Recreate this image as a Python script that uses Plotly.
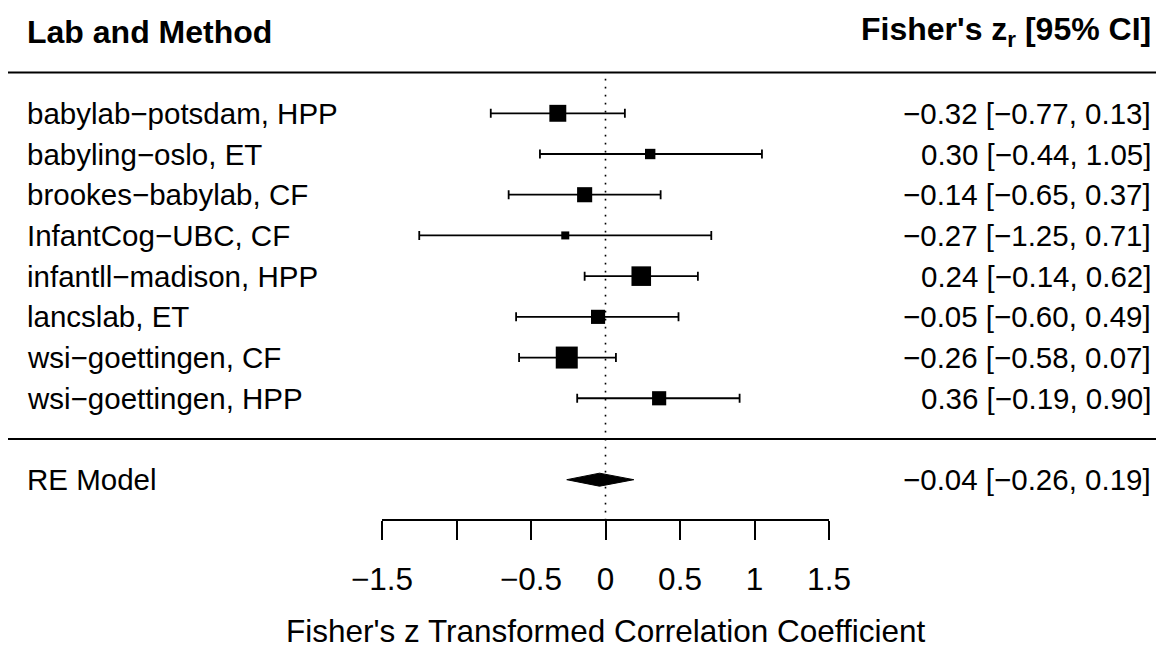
import plotly.graph_objects as go

# ---- data ----
labels = ["babylab\u2212potsdam, HPP", "babyling\u2212oslo, ET", "brookes\u2212babylab, CF",
          "InfantCog\u2212UBC, CF", "infantll\u2212madison, HPP", "lancslab, ET",
          "wsi\u2212goettingen, CF", "wsi\u2212goettingen, HPP"]
est = [-0.32, 0.30, -0.14, -0.27, 0.24, -0.05, -0.26, 0.36]
lb = [-0.77, -0.44, -0.65, -1.25, -0.14, -0.60, -0.58, -0.19]
ub = [0.13, 1.05, 0.37, 0.71, 0.62, 0.49, 0.07, 0.90]
weights = [14.62, 7.25, 12.57, 4.58, 17.62, 11.51, 20.35, 11.51]  # % (estimated from square sizes)

re_label = "RE Model"
re_est, re_lb, re_ub = -0.04, -0.26, 0.19

tick_vals = [-1.5, -0.5, 0, 0.5, 1, 1.5]          # labelled ticks
tick_text = ["\u22121.5", "\u22120.5", "0", "0.5", "1", "1.5"]
unlabelled_ticks = [-1]                            # tick drawn, label dropped

x_title = "Fisher's z Transformed Correlation Coefficient"
head_left = "<b>Lab and Method</b>"
head_right = "<b>Fisher's z<sub>r</sub> [95% CI]</b>"

# ---- layout helpers ----
OFF = 8                      # page body margin of the browser
W, H = 1164 - OFF, 650 - OFF
FONT = "Liberation Sans, Arial, Helvetica, sans-serif"
FS = 29.5
FS_HEAD = 32
FS_AXIS = 31.5
k = len(labels)
rows = list(range(k, 0, -1))
re_row = -1
top_row, bot_row, axis_row, head_row = k + 1, 0, -2, k + 2

row_px0, row_step = 113.3, 40.71   # page pixel y of row k, pixels per row
def py(r):
    return row_px0 + (k - r) * row_step - OFF   # figure pixel y
y_range = [k - (H - (row_px0 - OFF)) / row_step, k + (row_px0 - OFF) / row_step]
def fx(px):                  # page pixel x -> paper fraction
    return (px - OFF) / W
def fy(px):                  # page pixel y -> paper fraction
    return 1 - (px - OFF) / H
x_dom = [fx(382.0), fx(829.0)]

def fmt(v):
    return f"{v:.2f}".replace("-", "\u2212")

wmin, wmax = min(weights), max(weights)
sizes = [8 + (w - wmin) / (wmax - wmin) * 14 for w in weights]

fig = go.Figure()

# reference (dotted) line at 0
fig.add_trace(go.Scatter(x=[0, 0], y=[axis_row, top_row], mode="lines",
                         line=dict(color="black", width=1.6, dash="1.6px,6.4px"),
                         xaxis="x2", yaxis="y", hoverinfo="skip", showlegend=False))

# study estimates with CIs
fig.add_trace(go.Scatter(
    x=est, y=rows, mode="markers",
    marker=dict(symbol="square", size=sizes, color="black", opacity=1, line=dict(width=0)),
    error_x=dict(type="data", symmetric=False,
                 array=[u - e for u, e in zip(ub, est)],
                 arrayminus=[e - l for e, l in zip(est, lb)],
                 color="black", thickness=1.8, width=4.5),
    xaxis="x2", yaxis="y", showlegend=False, cliponaxis=False, hoverinfo="skip"))

# RE model diamond
dh = 0.16
fig.add_trace(go.Scatter(
    x=[re_lb, re_est, re_ub, re_est, re_lb],
    y=[re_row, re_row + dh, re_row, re_row - dh, re_row],
    mode="lines", fill="toself", fillcolor="black",
    line=dict(color="black", width=1), xaxis="x2", yaxis="y",
    showlegend=False, hoverinfo="skip"))

# horizontal separators
for r in (top_row, bot_row):
    fig.add_shape(type="line", xref="paper", yref="y", x0=0, x1=1.0, y0=r, y1=r,
                  line=dict(color="black", width=2))

ann = []
xl, xr = fx(25), fx(1153)
for lab, r, e, l, u in zip(labels, rows, est, lb, ub):
    ann.append(dict(x=xl, y=r, xref="paper", yref="y", text=lab, xanchor="left",
                    yanchor="middle", showarrow=False))
    ann.append(dict(x=xr, y=r, xref="paper", yref="y",
                    text=f"{fmt(e)} [{fmt(l)}, {fmt(u)}]", xanchor="right",
                    yanchor="middle", showarrow=False))
ann.append(dict(x=xl, y=re_row, xref="paper", yref="y", text=re_label, xanchor="left",
                yanchor="middle", showarrow=False))
ann.append(dict(x=xr, y=re_row, xref="paper", yref="y",
                text=f"{fmt(re_est)} [{fmt(re_lb)}, {fmt(re_ub)}]", xanchor="right",
                yanchor="middle", showarrow=False))
ann.append(dict(x=xl, y=head_row, xref="paper", yref="y", text=head_left, xanchor="left",
                yanchor="middle", showarrow=False, font=dict(size=FS_HEAD)))
ann.append(dict(x=xr, y=head_row, xref="paper", yref="y", text=head_right, xanchor="right",
                yanchor="middle", showarrow=False, font=dict(size=FS_HEAD)))
ann.append(dict(x=(x_dom[0] + x_dom[1]) / 2, y=fy(631), xref="paper", yref="paper",
                text=x_title, xanchor="center", yanchor="middle", showarrow=False,
                borderpad=0, font=dict(size=FS_AXIS)))

fig.update_layout(
    width=W, height=H, margin=dict(l=0, r=0, t=0, b=0, pad=0, autoexpand=False),
    paper_bgcolor="white", plot_bgcolor="rgba(0,0,0,0)",
    font=dict(family=FONT, size=FS, color="black"),
    showlegend=False,
    annotations=ann,
    xaxis2=dict(domain=x_dom, range=[-1.5, 1.5], anchor="free",
                position=1 - py(axis_row) / H, automargin=False,
                showline=True, linecolor="black", linewidth=1.5,
                ticks="outside", ticklen=19, tickwidth=1.5, tickcolor="black",
                tickmode="array", tickvals=tick_vals, ticktext=tick_text,
                ticklabelstandoff=12,
                minor=dict(tickmode="array", tickvals=unlabelled_ticks, ticks="outside",
                           ticklen=19, tickwidth=1.5, tickcolor="black", showgrid=False),
                tickfont=dict(family=FONT, size=FS_AXIS, color="black"),
                showgrid=False, zeroline=False, fixedrange=True),
    yaxis=dict(domain=[0, 1], range=y_range, visible=False, anchor="x2",
               automargin=False, showgrid=False, zeroline=False, fixedrange=True),
)

fig.write_html("out.html")
